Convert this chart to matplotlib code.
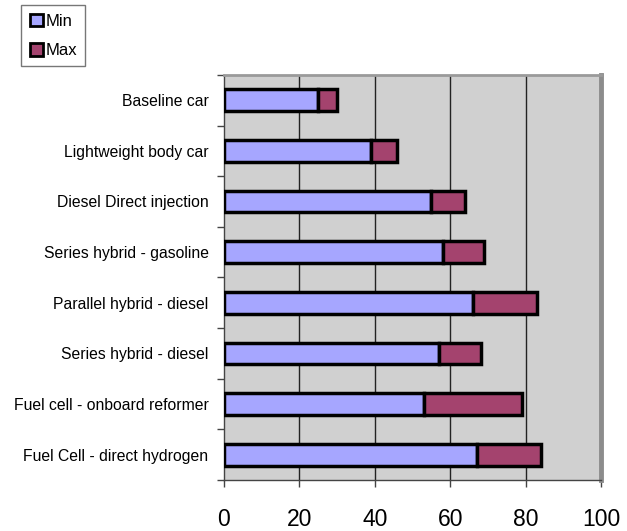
import matplotlib
matplotlib.use("Agg")
import matplotlib.pyplot as plt
import numpy as np

plt.rcParams['font.family'] = ['Liberation Sans', 'DejaVu Sans']

# data (top to bottom as in the chart)
CATEGORIES = ["Baseline car", "Lightweight body car", "Diesel Direct injection",
              "Series hybrid - gasoline", "Parallel hybrid - diesel",
              "Series hybrid - diesel", "Fuel cell - onboard reformer",
              "Fuel Cell - direct hydrogen"]
MIN_VALUES = [25, 39, 55, 58, 66, 57, 53, 67]
MAX_VALUES = [30, 46, 64, 69, 83, 68, 79, 84]
XTICKS = [0, 20, 40, 60, 80, 100]

COLOR_MIN = "#a6a6ff"
COLOR_MAX = "#a4436e"
BG = "#d0d0d0"

fig = plt.figure(figsize=(6.27, 5.31), dpi=100)
ax = fig.add_axes([0.357, 0.096, 0.602, 0.763])

n = len(CATEGORIES)
y = np.arange(n)[::-1]
mins = np.array(MIN_VALUES)
maxs = np.array(MAX_VALUES)

ax.barh(y, mins, height=0.43, color=COLOR_MIN, edgecolor="black",
        linewidth=2.5, label="Min", zorder=3)
ax.barh(y, maxs - mins, left=mins, height=0.43, color=COLOR_MAX,
        edgecolor="black", linewidth=2.5, label="Max", zorder=3)

ax.set_facecolor(BG)
ax.set_xlim(0, 100)
ax.set_ylim(-0.5, n - 0.5)

# vertical grid
for x in XTICKS[1:-1]:
    ax.axvline(x, color="#222222", linewidth=1, zorder=1)

# frame: dark left / bottom, grey shadow top / right
ax.spines["left"].set_color("#444444")
ax.spines["bottom"].set_color("#444444")
ax.spines["left"].set_linewidth(1)
ax.spines["bottom"].set_linewidth(1)
ax.spines["top"].set_color("#9a9a9a")
ax.spines["top"].set_linewidth(2)
ax.spines["right"].set_color("#8c8c8c")
ax.spines["right"].set_linewidth(3.5)

ax.set_xticks(XTICKS)
ax.set_xticklabels([str(v) for v in XTICKS], fontsize=16.5)
ax.tick_params(axis="x", direction="out", length=5, width=1,
               color="#444444", pad=15)

ax.set_yticks(y)
ax.set_yticklabels(CATEGORIES, fontsize=11.3)
ax.tick_params(axis="y", which="major", length=0, pad=11)
ax.set_yticks(np.arange(n + 1) - 0.5, minor=True)
ax.tick_params(axis="y", which="minor", direction="out", length=5,
               width=1, color="#444444")

leg = fig.legend(loc="upper left", bbox_to_anchor=(0.034, 0.99),
                 fontsize=12, frameon=True, fancybox=False,
                 handlelength=0.8, handleheight=0.8, handletextpad=0.15,
                 borderpad=0.5, labelspacing=0.85, borderaxespad=0)
leg.get_frame().set_edgecolor("#555555")
leg.get_frame().set_linewidth(1)
for h in leg.legend_handles:
    h.set_linewidth(2)

plt.savefig("out.png", dpi=100)
